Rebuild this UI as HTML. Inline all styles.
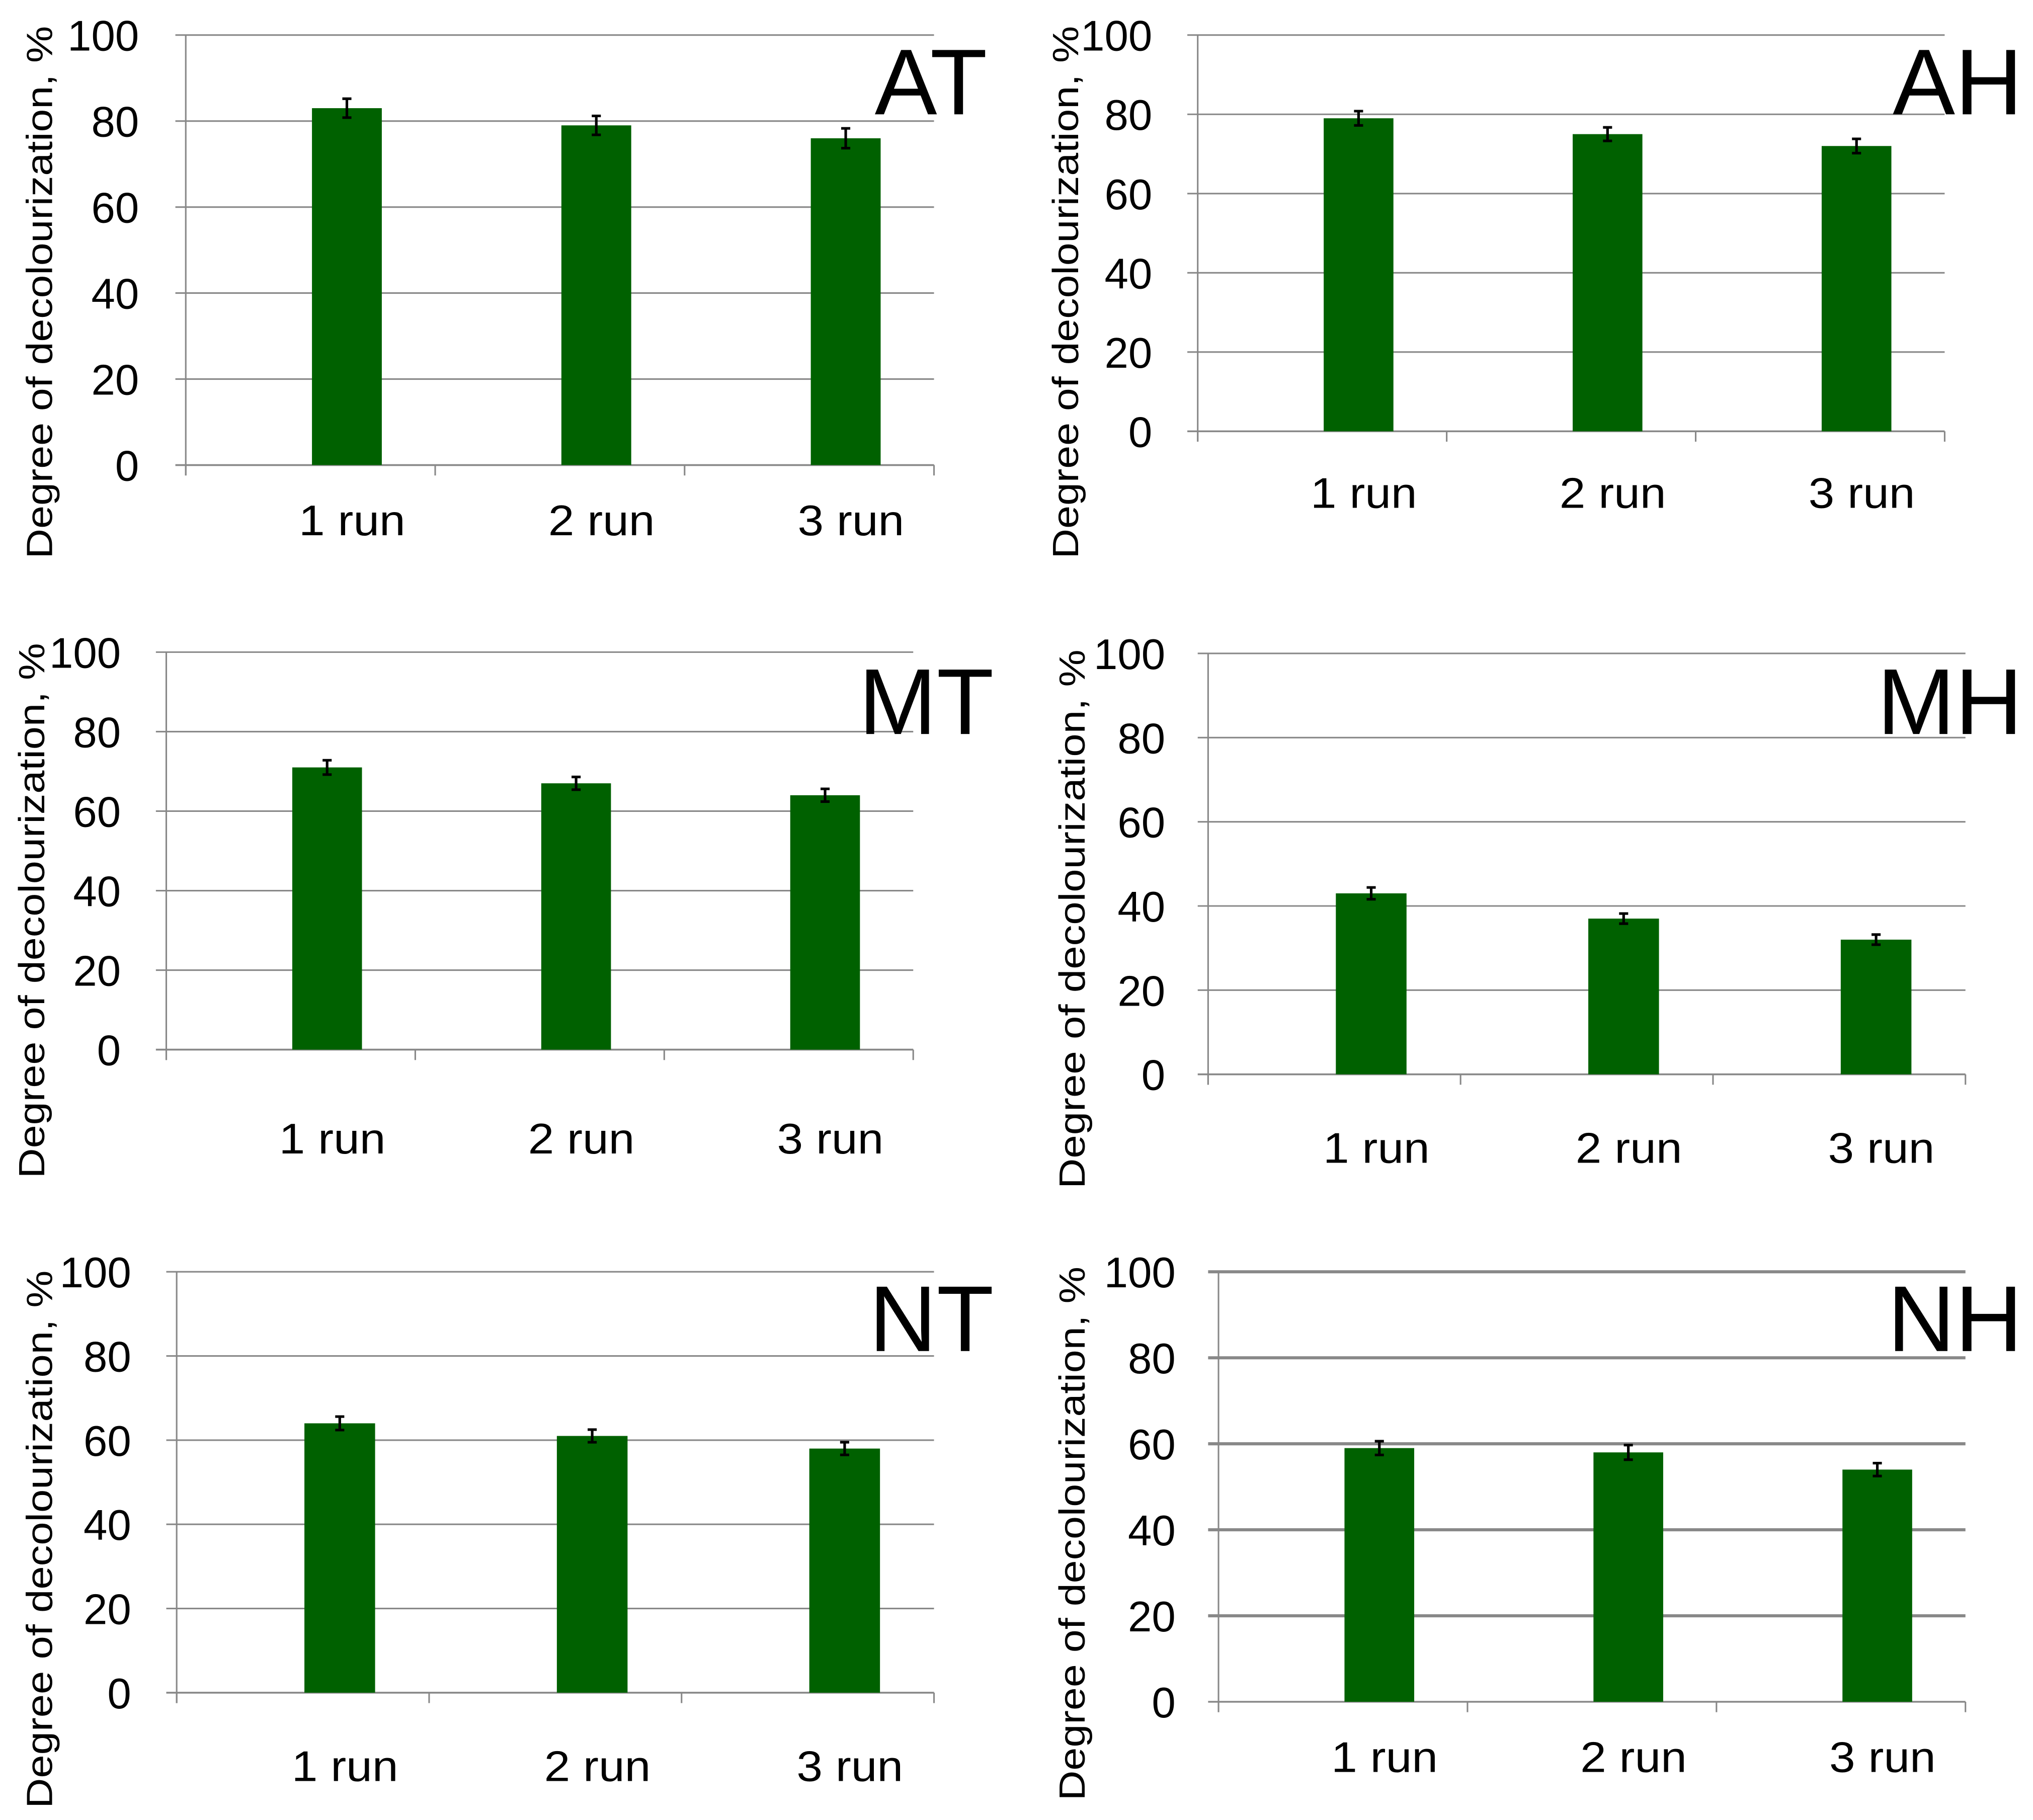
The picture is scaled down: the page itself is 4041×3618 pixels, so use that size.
<!DOCTYPE html>
<html><head><meta charset="utf-8"><style>
html,body{margin:0;padding:0;background:#fff;}
svg{display:block;}
text{font-family:"Liberation Sans",sans-serif;fill:#000;}
</style></head><body>
<svg id="fig" width="4041" height="3618" viewBox="0 0 1565 1401" preserveAspectRatio="none" xmlns="http://www.w3.org/2000/svg"></svg>
<script>
const categories = ["1 run","2 run","3 run"];
const yTicks = [0,20,40,60,80,100];
const panelNames = ["AT","AH","MT","MH","NT","NH"];
const valuesAT = [83,79,76];
const valuesAH = [79,75,72];
const valuesMT = [71,67,64];
const valuesMH = [43,37,32];
const valuesNT = [64,61,58];
const valuesNH = [59,58,54];
const errorsAT = [2.2,2.2,2.3];
const errorsAH = [1.8,1.7,1.8];
const errorsMT = [1.8,1.6,1.6];
const errorsMH = [1.4,1.2,1.2];
const errorsNT = [1.6,1.5,1.5];
const errorsNH = [1.6,1.7,1.5];
const allValues = [valuesAT,valuesAH,valuesMT,valuesMH,valuesNT,valuesNH];
const allErrors = [errorsAT,errorsAH,errorsMT,errorsMH,errorsNT,errorsNH];
const layouts = [
 {x0:143,x1:719,yTop:27,yBot:358,tickR:107,labY:412,titleR:760,titleY:88,ytX:40,ytY0:430,ytY1:20,grid:'#888',gw:1.2},
 {x0:922,x1:1497,yTop:27,yBot:332,tickR:887,labY:391,titleR:1557,titleY:88,ytX:830,ytY0:430,ytY1:20,grid:'#888',gw:1.2},
 {x0:128,x1:703,yTop:502,yBot:808,tickR:93,labY:888,titleR:765,titleY:565,ytX:34,ytY0:907,ytY1:495,grid:'#888',gw:1.2},
 {x0:930,x1:1513,yTop:503,yBot:827,tickR:897,labY:895,titleR:1557,titleY:565,ytX:835,ytY0:915,ytY1:500,grid:'#888',gw:1.2},
 {x0:136,x1:719,yTop:979,yBot:1303,tickR:101,labY:1371,titleR:765,titleY:1040,ytX:40,ytY0:1392,ytY1:978,grid:'#888',gw:1.2},
 {x0:938,x1:1513,yTop:979,yBot:1310,tickR:905,labY:1364,titleR:1557,titleY:1040,ytX:835,ytY0:1386,ytY1:975,grid:'#888',gw:2.4}
];
const svg = document.getElementById('fig');
const NS = 'http://www.w3.org/2000/svg';
function mk(tag, attrs, parent){
  const e = document.createElementNS(NS, tag);
  for (const k in attrs) e.setAttribute(k, attrs[k]);
  parent.appendChild(e);
  return e;
}
panelNames.forEach((name, p) => {
  const L = layouts[p];
  const vals = allValues[p], errs = allErrors[p];
  const g = mk('g', {}, svg);
  
  
  const yS = v => L.yBot - (v/100)*(L.yBot - L.yTop);
  const catW = (L.x1 - L.x0)/categories.length;
  const xC = i => L.x0 + catW*(i+0.5) + catW*0.146;
  yTicks.forEach(t => {
    if (t > 0) {
      const gl = mk('line', {x1:L.x0-8, x2:L.x1, y1:yS(t), y2:yS(t), stroke:L.grid, 'stroke-width':L.gw}, g);
      
      
    }
    const tl = mk('text', {x:L.tickR, y:yS(t)+12, 'font-size':33, 'text-anchor':'end'}, g);
    tl.textContent = t;
    
    
  });
  const ya = mk('line', {x1:L.x0, x2:L.x0, y1:L.yTop, y2:L.yBot+8, stroke:'#888', 'stroke-width':1.2}, g);
  
  
  const xa = mk('line', {x1:L.x0-8, x2:L.x1, y1:L.yBot, y2:L.yBot, stroke:'#888', 'stroke-width':1.4}, g);
  
  
  for (let i = 0; i <= categories.length; i++) {
    const tk = mk('line', {x1:L.x0+catW*i, x2:L.x0+catW*i, y1:L.yBot, y2:L.yBot+8, stroke:'#888', 'stroke-width':1.2}, g);
    
    
  }
  const bw = catW*0.28;
  categories.forEach((c, i) => {
    const v = vals[i], e = errs[i];
    const b = mk('rect', {x:xC(i)-bw/2, y:yS(v), width:bw, height:yS(0)-yS(v), fill:'#006100'}, g);
    
    
    const eb = mk('path', {d:`M${xC(i)-3.5},${yS(v+e)}H${xC(i)+3.5}M${xC(i)},${yS(v+e)}V${yS(v-e)}M${xC(i)-3.5},${yS(v-e)}H${xC(i)+3.5}`, stroke:'#000', 'stroke-width':2, fill:'none'}, g);
    
    
    const cl = mk('text', {x:xC(i)+4, y:L.labY, 'font-size':33, 'text-anchor':'middle', textLength:82, lengthAdjust:'spacingAndGlyphs'}, g);
    cl.textContent = c;
    
    
  });
  const tt = mk('text', {x:L.titleR, y:L.titleY, 'font-size':72, 'text-anchor':'end'}, g);
  tt.textContent = name;
  
  
  const yt = mk('text', {x:0, y:0, 'font-size':28, transform:`translate(${L.ytX},${L.ytY0}) rotate(-90)`, textLength:(L.ytY0-L.ytY1), lengthAdjust:'spacingAndGlyphs'}, g);
  yt.textContent = 'Degree of decolourization, %';
  
  
});
</script>
</body></html>
